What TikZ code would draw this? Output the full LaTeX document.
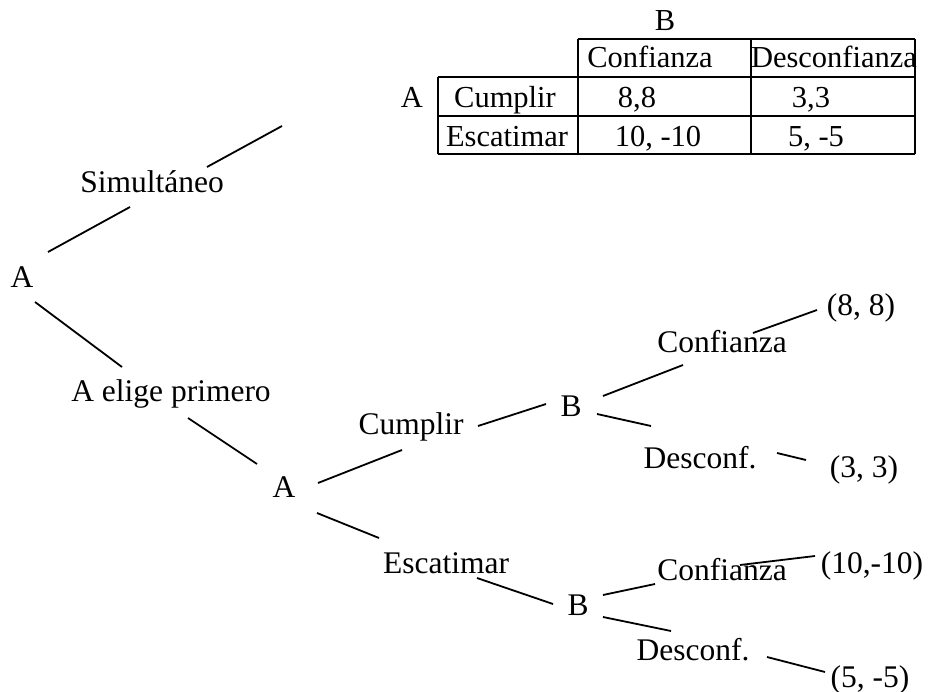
\documentclass[tikz,border=0pt]{standalone}
\usepackage{fontspec}
\setmainfont{Liberation Serif}
\begin{document}
\begin{tikzpicture}[x=1pt,y=-1pt,
  lbl/.style={inner sep=0pt,anchor=base,font=\fontsize{31.5}{36}\selectfont},
  tlbl/.style={inner sep=0pt,anchor=base,font=\fontsize{30.5}{36}\selectfont},
  edge/.style={line width=1.8pt,line cap=butt},
  grid/.style={line width=1.8pt}]
\useasboundingbox (0,0) rectangle (929,692);
% ---- payoff table ----
\draw[grid] (578,39) -- (915,39);
\draw[grid] (438,77) -- (915,77);
\draw[grid] (438,116) -- (915,116);
\draw[grid] (438,154) -- (915,154);
\draw[grid] (438,77) -- (438,154);
\draw[grid] (578,39) -- (578,154);
\draw[grid] (751,39) -- (751,154);
\draw[grid] (915,39) -- (915,154);
\node[tlbl] (tB) at (665,31) {B};
\node[tlbl] (tConf) at (650,68) {Confianza};
\node[tlbl] (tDesc) at (834,68) {Desconfianza};
\node[tlbl] (tA) at (412,108) {A};
\node[tlbl] (tCum) at (505,108) {Cumplir};
\node[tlbl] (t88) at (637,108) {8,8};
\node[tlbl] (t33) at (811,108) {3,3};
\node[tlbl] (tEsc) at (507,147) {Escatimar};
\node[tlbl] (t1010) at (658,147) {10, -10};
\node[tlbl] (t55) at (816,147) {5, -5};
% ---- tree nodes ----
\node[lbl] (rootA) at (22,288) {A};
\node[lbl] (sim) at (152,193) {Simultáneo};
\coordinate (simend) at (282,126);
\node[lbl] (elige) at (171,402) {A elige primero};
\node[lbl] (A2) at (284,497) {A};
\node[lbl] (cump) at (411,435) {Cumplir};
\node[lbl] (B1) at (571,417) {B};
\node[lbl] (conf1) at (722,353) {Confianza};
\node[lbl] (p88) at (861,316) {(8, 8)};
\node[lbl] (desc1) at (700,468) {Desconf.};
\node[lbl] (p33) at (864,477) {(3, 3)};
\node[lbl] (esc) at (446,573) {Escatimar};
\node[lbl] (B2) at (578,615) {B};
\node[lbl] (conf2) at (722,580) {Confianza};
\node[lbl] (p1010) at (872,573) {(10,-10)};
\node[lbl] (desc2) at (693,660) {Desconf.};
\node[lbl] (p55) at (870,687) {(5, -5)};
% ---- tree edges ----
\draw[edge] ([shift={(26,-36)}]rootA.base) -- ([shift={(-22,14)}]sim.base);
\draw[edge] ([shift={(55,-26)}]sim.base) -- (simend);
\draw[edge] ([shift={(13,14)}]rootA.base) -- ([shift={(-49,-35)}]elige.base);
\draw[edge] ([shift={(17,16)}]elige.base) -- ([shift={(-27,-33)}]A2.base);
\draw[edge] ([shift={(34,-14)}]A2.base) -- ([shift={(-9,15)}]cump.base);
\draw[edge] ([shift={(67,-9)}]cump.base) -- ([shift={(-25,-13)}]B1.base);
\draw[edge] ([shift={(32,-21)}]B1.base) -- ([shift={(-39,12)}]conf1.base);
\draw[edge] ([shift={(31,-20)}]conf1.base) -- ([shift={(-44,-6)}]p88.base);
\draw[edge] ([shift={(26,-3)}]B1.base) -- ([shift={(-49,-42)}]desc1.base);
\draw[edge] ([shift={(77,-15)}]desc1.base) -- ([shift={(-58,-17)}]p33.base);
\draw[edge] ([shift={(33,16)}]A2.base) -- ([shift={(-67,-35)}]esc.base);
\draw[edge] ([shift={(31,5)}]esc.base) -- ([shift={(-25,-11)}]B2.base);
\draw[edge] ([shift={(25,-20)}]B2.base) -- ([shift={(-67,4)}]conf2.base);
\draw[edge] ([shift={(18,-15)}]conf2.base) -- ([shift={(-57,-17)}]p1010.base);
\draw[edge] ([shift={(25,2)}]B2.base) -- ([shift={(-22,-29)}]desc2.base);
\draw[edge] ([shift={(74,-3)}]desc2.base) -- ([shift={(-45,-15)}]p55.base);
\end{tikzpicture}
\end{document}
